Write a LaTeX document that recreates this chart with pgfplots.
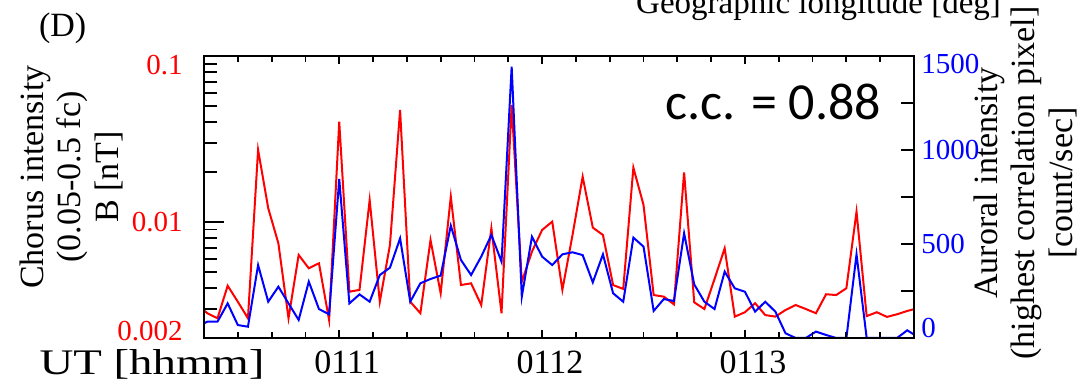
\documentclass[border=0pt]{standalone}
\usepackage{pgfplots}
\pgfplotsset{compat=1.18}
\usepackage{pgfplotstable}
\usepackage{fontspec}
\setmainfont{Liberation Serif}
\newfontfamily\ccfont{Carlito}

\pgfplotstableread{
t v
18 0.00316
21 0.00282
24 0.00263
27 0.00413
30 0.00331
33 0.00263
36 0.0272
39 0.0121
42 0.00744
45 0.00263
48 0.00633
51 0.00526
54 0.00564
57 0.00257
60 0.0402
63 0.00380
66 0.00390
69 0.01357
72 0.00331
75 0.00727
78 0.0473
81 0.00331
84 0.00282
87 0.00779
90 0.00372
93 0.01421
96 0.00417
99 0.00427
102 0.00316
105 0.00916
108 0.00282
111 0.0507
114 0.00437
117 0.00663
120 0.00895
123 0.01005
126 0.0039
129 0.00835
132 0.01875
135 0.00925
138 0.00835
141 0.00417
144 0.00395
147 0.02125
150 0.01266
153 0.00363
156 0.00355
159 0.00319
162 0.01991
165 0.00328
168 0.00299
171 0.00453
174 0.00694
177 0.00269
180 0.00286
183 0.00324
186 0.00275
189 0.00269
192 0.00295
195 0.00316
198 0.00299
201 0.00282
204 0.00367
207 0.00363
210 0.00399
213 0.01154
216 0.00271
219 0.00286
222 0.00268
225 0.00278
228 0.00291
231 0.00302
}\chorus

\pgfplotstableread{
t v
18 60
21 87
24 87
27 184
30 69
33 60
36 388
39 193
42 273
45 184
48 96
51 300
54 154
57 126
60 846
63 184
66 232
69 193
72 335
75 374
78 530
81 193
84 291
87 314
90 332
93 598
96 415
99 335
102 433
105 548
108 406
111 1443
114 220
117 539
120 433
123 388
126 445
129 456
132 441
135 296
138 445
141 238
144 193
147 534
150 486
153 144
156 207
159 197
162 557
165 285
168 193
171 154
174 353
177 264
180 246
183 140
186 193
189 140
192 25
195 0
198 0
201 34
204 16
207 0
210 0
213 445
216 0
219 0
222 0
225 0
228 41
231 7
}\aurora

\pgfplotsset{common/.style={at={(0,0)}, anchor=south west, scale only axis,
  width=355pt, height=141pt, xmin=20, xmax=230,
  /pgf/number format/assume math mode=true,
  axis line style={line width=1pt},
  every tick/.style={black, line width=0.9pt}}}

\begin{document}
\begin{tikzpicture}
\useasboundingbox (-102pt,-21pt) rectangle (442pt,169pt);
\clip (-102pt,-21pt) rectangle (442pt,169pt);
% red log axis (left)
\begin{axis}[common, ymode=log, ymin=0.002, ymax=0.1, xtick=\empty,
  ytick={0.002,0.01,0.1},
  yticklabels={\raisebox{3.5pt}{0.002},0.01,\raisebox{-4.5pt}{0.1}},
  minor ytick={0.003,0.004,0.005,0.006,0.007,0.008,0.009,0.02,0.03,0.04,0.05,0.06,0.07,0.08,0.09},
  ytick pos=left, major tick length=10pt, minor tick length=6.5pt,
  yticklabel style={red, font=\fontsize{14.5}{14.5}\selectfont, anchor=base east,
    inner sep=0pt, xshift=-10.5pt, yshift=-4.9pt}]
\addplot[red, line width=1pt] table[x=t, y=v] {\chorus};
\end{axis}
% blue linear axis (right)
\begin{axis}[common, ymin=0, ymax=1500, xtick=\empty,
  ytick={0,500,1000,1500},
  yticklabels={\raisebox{5pt}{0},500,1000,\raisebox{-4pt}{1500}},
  minor ytick={250,750,1250},
  ytick pos=right, major tick length=6.5pt, minor tick length=6.5pt,
  yticklabel style={blue, font=\fontsize{14.5}{14.5}\selectfont, anchor=base west,
    inner sep=0pt, xshift=3.5pt, yshift=-4.9pt}]
\addplot[blue, line width=1pt] table[x=t, y=v] {\aurora};
\end{axis}
% x ticks
\begin{axis}[common, ymin=0, ymax=1, ytick=\empty,
  xtick={60,120,180}, xticklabels={0111,0112,0113},
  minor xtick={30,40,50,70,80,90,100,110,130,140,150,160,170,190,200,210,220},
  xtick pos=both, xticklabel pos=bottom,
  major tick length=4pt, minor tick length=3pt,
  xticklabel style={font=\fontsize{17}{17}\selectfont, anchor=base,
    inner sep=0pt, xshift=4pt, yshift=-18pt}]
\end{axis}
\node[anchor=base east, inner sep=0pt, xscale=1.3, font=\fontsize{18}{18}\selectfont] at (30.5pt,-18.3pt) {UT [hhmm]};
\node[anchor=base west, font=\fontsize{17}{17}\selectfont] at (-86pt,150.5pt) {(D)};
\node[anchor=base east, font=\fontsize{16.5}{16.5}\selectfont] at (402pt,162pt) {Geographic longitude [deg]};
\node[anchor=base east, font=\ccfont\fontsize{26}{26}\selectfont] at (342pt,109pt) {c.c. = 0.88};
\node[rotate=90, align=center, font=\fontsize{17}{18.75}\selectfont] at (-66.5pt,80.5pt)
  {Chorus intensity\\(0.05-0.5 fc)\\B [nT]};
\node[rotate=90, align=center, font=\fontsize{17}{18.75}\selectfont] at (410.5pt,77.5pt)
  {Auroral intensity\\(highest correlation pixel]\\{[}count/sec]};
\end{tikzpicture}
\end{document}
